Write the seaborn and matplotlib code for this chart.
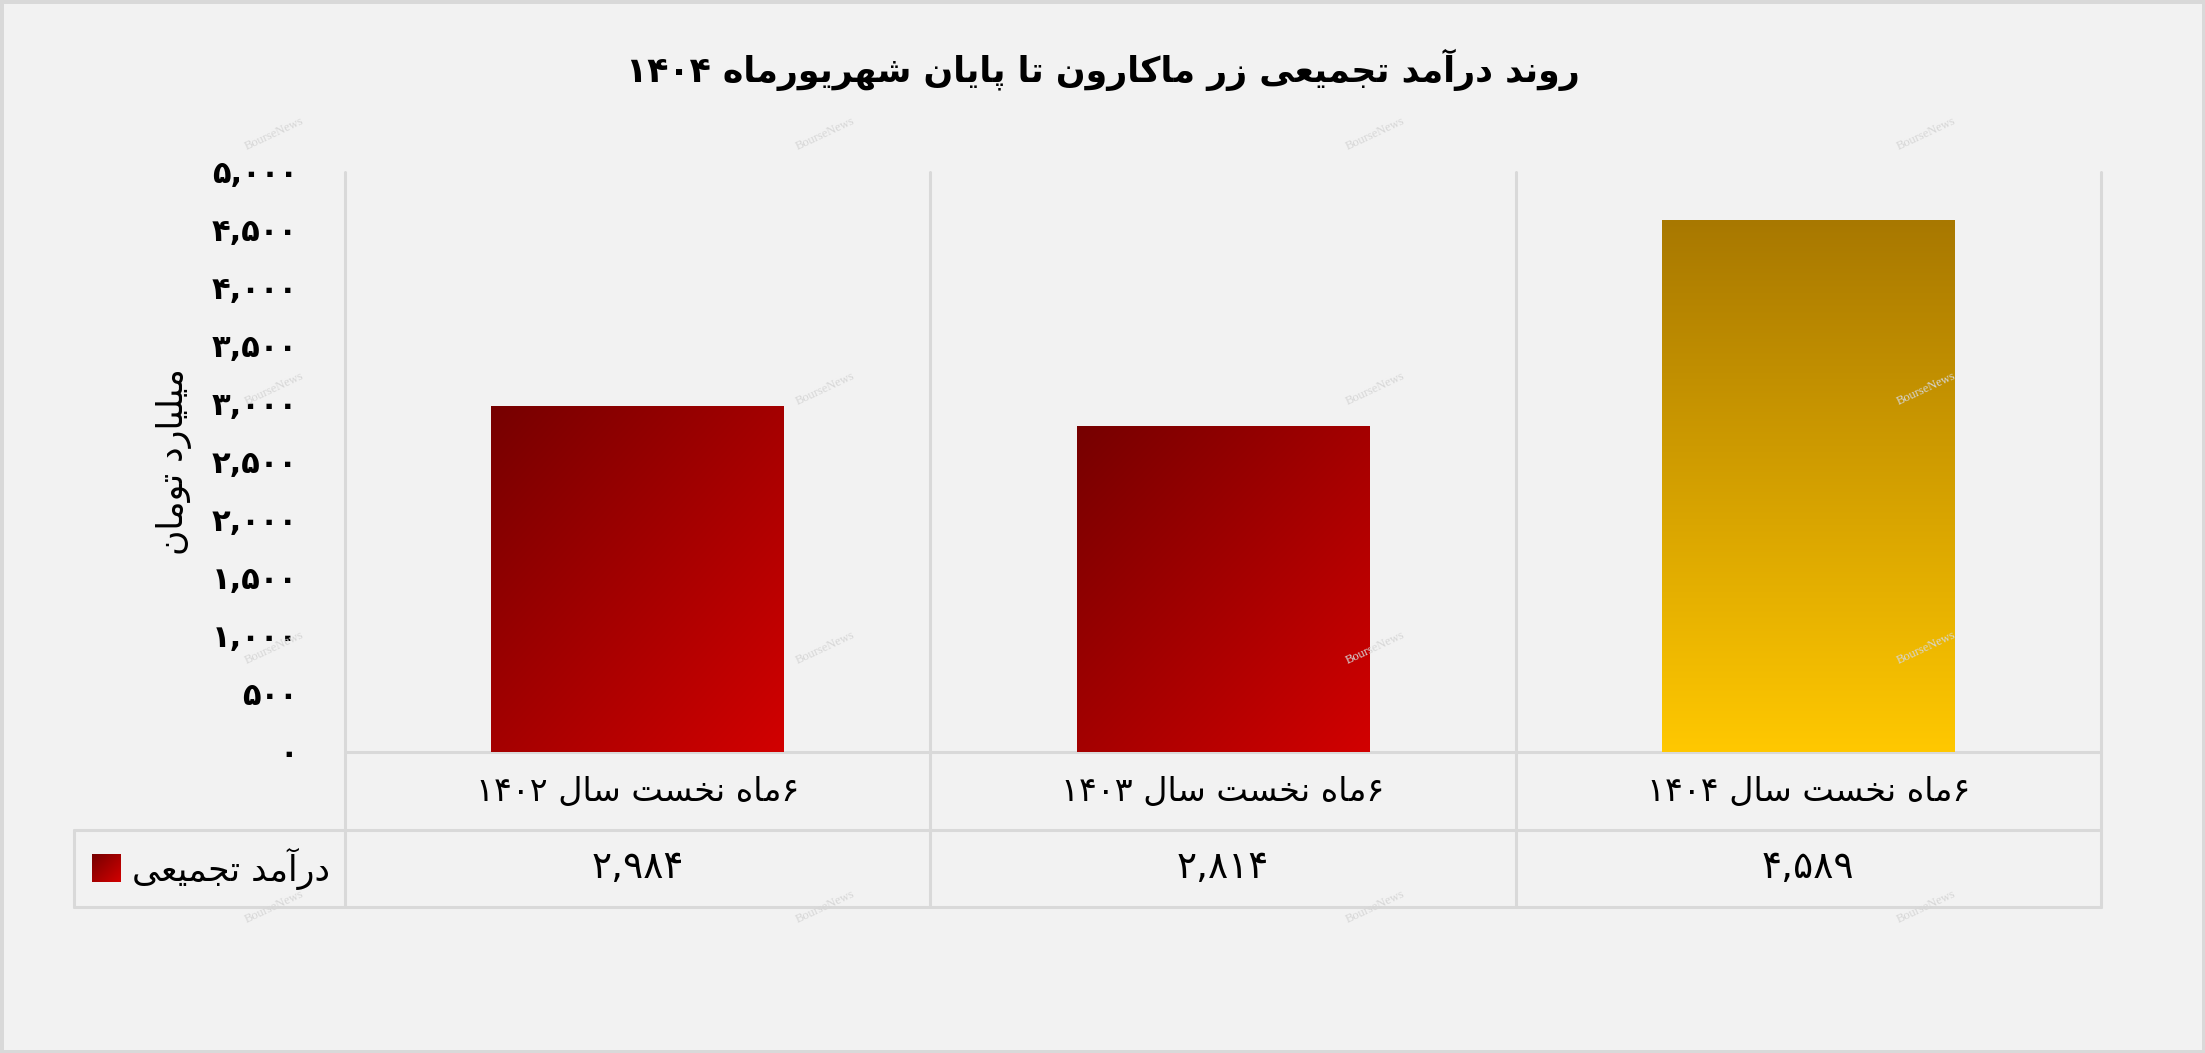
import re
import numpy as np
import pandas as pd
import matplotlib
matplotlib.use("Agg")
import matplotlib.pyplot as plt
import matplotlib.colors as mcolors
from matplotlib.patches import Rectangle
import seaborn as sns

# data
title = "روند درآمد تجمیعی زر ماکارون تا پایان شهریورماه ۱۴۰۴"
y_label = "میلیارد تومان"
series_name = "درآمد تجمیعی"
categories = ["۶ماه نخست سال ۱۴۰۲", "۶ماه نخست سال ۱۴۰۳", "۶ماه نخست سال ۱۴۰۴"]
values = [2984, 2814, 4589]
y_ticks = [0, 500, 1000, 1500, 2000, 2500, 3000, 3500, 4000, 4500, 5000]
# (top colour, bottom colour, direction) per bar
bar_gradients = [("#760000", "#d20000", "diag"),
                 ("#760000", "#d20000", "diag"),
                 ("#a87800", "#ffc800", "vert")]

BG = "#f2f2f2"
GRID = "#d9d9d9"

# minimal Persian shaping (isolated, final, initial, medial)
FORMS = {
    "ا": ("\uFE8D", "\uFE8E", None, None),
    "آ": ("\uFE81", "\uFE82", None, None),
    "د": ("\uFEA9", "\uFEAA", None, None),
    "ر": ("\uFEAD", "\uFEAE", None, None),
    "ز": ("\uFEAF", "\uFEB0", None, None),
    "و": ("\uFEED", "\uFEEE", None, None),
    "پ": ("\uFB56", "\uFB57", "\uFB58", "\uFB59"),
    "ت": ("\uFE95", "\uFE96", "\uFE97", "\uFE98"),
    "ج": ("\uFE9D", "\uFE9E", "\uFE9F", "\uFEA0"),
    "خ": ("\uFEA5", "\uFEA6", "\uFEA7", "\uFEA8"),
    "س": ("\uFEB1", "\uFEB2", "\uFEB3", "\uFEB4"),
    "ش": ("\uFEB5", "\uFEB6", "\uFEB7", "\uFEB8"),
    "ع": ("\uFEC9", "\uFECA", "\uFECB", "\uFECC"),
    "ک": ("\uFB8E", "\uFB8F", "\uFB90", "\uFB91"),
    "ل": ("\uFEDD", "\uFEDE", "\uFEDF", "\uFEE0"),
    "م": ("\uFEE1", "\uFEE2", "\uFEE3", "\uFEE4"),
    "ن": ("\uFEE5", "\uFEE6", "\uFEE7", "\uFEE8"),
    "ه": ("\uFEE9", "\uFEEA", "\uFEEB", "\uFEEC"),
    "ی": ("\uFBFC", "\uFBFD", "\uFBFE", "\uFBFF"),
}
FA_DIGITS = str.maketrans("0123456789", "۰۱۲۳۴۵۶۷۸۹")


def shape(s):
    out = []
    for i, ch in enumerate(s):
        if ch not in FORMS:
            out.append(ch)
            continue
        prev = s[i - 1] if i > 0 else ""
        nxt = s[i + 1] if i + 1 < len(s) else ""
        jp = prev in FORMS and FORMS[prev][2] is not None
        jn = nxt in FORMS and FORMS[ch][2] is not None
        iso, fin, ini, med = FORMS[ch]
        out.append(med if jp and jn else fin if jp else ini if jn else iso)
    return "".join(out)


def fa(s):
    # shape, then lay out right-to-left keeping digit runs left-to-right
    runs = re.findall(r"[۰-۹0-9,]+|[^۰-۹0-9,]+", shape(s))
    return "".join(r if re.match(r"[۰-۹0-9,]", r) else r[::-1] for r in runs[::-1])


def num(v):
    return f"{v:,}".translate(FA_DIGITS)


sns.set_style("white", {"axes.facecolor": BG, "figure.facecolor": BG,
                        "text.color": "black", "axes.labelcolor": "black",
                        "ytick.color": "black"})
plt.rcParams["font.family"] = ["DejaVu Sans"]

fig = plt.figure(figsize=(22.05, 10.53), dpi=100)
ax = fig.add_axes([0.15646, 0.28585, 0.79637, 0.55081])

df = pd.DataFrame({"cat": categories, "value": values})
mids = [mcolors.to_hex((np.array(mcolors.to_rgb(a)) + np.array(mcolors.to_rgb(b))) / 2)
        for a, b, _ in bar_gradients]
sns.barplot(data=df, x="cat", y="value", hue="cat", palette=mids, width=0.5,
            legend=False, ax=ax, zorder=2, linewidth=0)

# gradient fill clipped to each bar
n = 256
U, V = np.meshgrid(np.linspace(0, 1, n), np.linspace(0, 1, n))
for patch, (c0, c1, mode) in zip(ax.patches, bar_gradients):
    x0, y0 = patch.get_x(), patch.get_y()
    w, h = patch.get_width(), patch.get_height()
    t = (U + V) / 2 if mode == "diag" else V
    a, b = np.array(mcolors.to_rgb(c0)), np.array(mcolors.to_rgb(c1))
    img = a + t[..., None] * (b - a)
    im = ax.imshow(img, extent=[x0, x0 + w, y0, y0 + h], origin="upper",
                   aspect="auto", zorder=2.1, interpolation="bilinear")
    im.set_clip_path(patch)

ax.set_xlim(-0.5, 2.5)
ax.set_ylim(0, 5000)
for s in ax.spines.values():
    s.set_visible(False)

ax.set_yticks(y_ticks, labels=[num(v) for v in y_ticks])
ax.tick_params(axis="y", length=0, pad=34, labelsize=22)
for lbl in ax.get_yticklabels():
    lbl.set_fontweight("bold")
ax.tick_params(axis="x", length=0, labelbottom=False)
ax.set_xlabel("")
ax.set_ylabel(fa(y_label), fontsize=25, va="center")
ax.yaxis.set_label_coords(-0.0975, 0.5)

# data table under the plot
row1, row2, leg_x = -0.1345, -0.2672, -0.1543
for xv in [-0.5, 0.5, 1.5, 2.5]:
    ax.axvline(xv, ymin=row2, ymax=1, color=GRID, lw=2.2, clip_on=False, zorder=1)
ax.plot([0, 1], [0, 0], transform=ax.transAxes, color=GRID, lw=2.2, clip_on=False)
for yv in [row1, row2]:
    ax.plot([leg_x, 1], [yv, yv], transform=ax.transAxes, color=GRID, lw=2.2, clip_on=False)
ax.plot([leg_x, leg_x], [row1, row2], transform=ax.transAxes, color=GRID, lw=2.2, clip_on=False)

xform = ax.get_xaxis_transform()
for i, (c, v) in enumerate(zip(categories, values)):
    ax.text(i, row1 / 2, fa(c), transform=xform, ha="center", va="center", fontsize=24)
    ax.text(i, (row1 + row2) / 2, num(v), transform=xform, ha="center", va="center", fontsize=27)

ax.text(-0.0085, (row1 + row2) / 2, fa(series_name), transform=ax.transAxes,
        ha="right", va="center", fontsize=25)
sq = np.linspace(0, 1, 64)
SU, SV = np.meshgrid(sq, sq)
st = (SU + SV) / 2
a, b = np.array(mcolors.to_rgb(bar_gradients[0][0])), np.array(mcolors.to_rgb(bar_gradients[0][1]))
leg_ax = fig.add_axes([92 / 2205, 1 - 882 / 1053, 29 / 2205, 28 / 1053])
leg_ax.imshow(a + st[..., None] * (b - a), aspect="auto", interpolation="bilinear")
leg_ax.axis("off")

fig.text(0.5, 1 - 70 / 1053, fa(title), ha="center", va="center", fontsize=25, fontweight="bold")

# faint watermarks
for wx in [274, 825, 1375, 1926]:
    for wy in [134, 389, 648, 907]:
        fig.text(wx / 2205, 1 - wy / 1053, "BourseNews", rotation=25, ha="center", va="center",
                 fontsize=9, color="#d6d6d6", family="Liberation Serif", zorder=10)

fig.add_artist(Rectangle((0, 0), 1, 1, transform=fig.transFigure, fill=False,
                         edgecolor=GRID, lw=5))

fig.savefig("out.png", dpi=100, facecolor=BG)
